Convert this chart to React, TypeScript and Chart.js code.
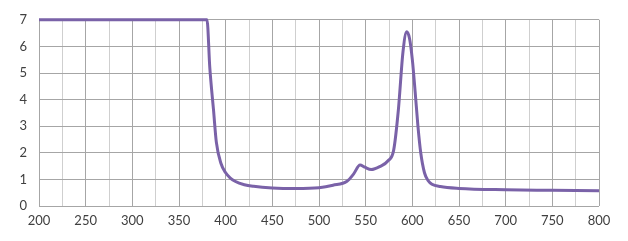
import React, { useEffect, useRef } from "react";
import { Chart, registerables } from "chart.js";

Chart.register(...registerables);

const wavelengths = [200, 250, 300, 350, 380, 383, 387, 390, 395, 400, 405, 410, 420, 430, 450, 475, 500, 515, 530, 537, 544, 549, 556, 565, 574, 580, 585, 590, 594, 597, 600, 603, 606, 609, 613, 617, 621, 630, 650, 700, 750, 800];
const absorbance = [7, 7, 7, 7, 7, 5.2, 3.6, 2.4, 1.6, 1.25, 1.05, 0.93, 0.8, 0.74, 0.68, 0.66, 0.69, 0.78, 0.93, 1.2, 1.54, 1.46, 1.37, 1.48, 1.7, 2.1, 3.6, 5.8, 6.55, 6.3, 5.5, 4.3, 3.0, 2.0, 1.25, 0.95, 0.82, 0.73, 0.66, 0.61, 0.59, 0.57];
const xMin = 200;
const xMax = 800;
const yMin = 0;
const yMax = 7;

export default function App() {
  const ref = useRef<HTMLCanvasElement | null>(null);

  useEffect(() => {
    document.body.style.margin = "0";
    const ctx = ref.current!;
    const points = wavelengths.map((x, i) => ({ x, y: absorbance[i] }));
    const chart = new Chart(ctx, {
      type: "line",
      data: {
        datasets: [
          {
            data: points,
            borderColor: "#7a62a8",
            borderWidth: 3,
            pointRadius: 0,
            cubicInterpolationMode: "monotone",
            fill: false,
            clip: 4,
          },
        ],
      },
      options: {
        animation: false,
        responsive: false,
        maintainAspectRatio: false,
        layout: { padding: { top: 17, right: 29, left: 0, bottom: 0 } },
        plugins: { legend: { display: false }, tooltip: { enabled: false } },
        scales: {
          x: {
            type: "linear",
            min: xMin,
            max: xMax,
            afterFit: (s: any) => {
              s.height = 35;
            },
            ticks: {
              stepSize: 25,
              autoSkip: false,
              maxRotation: 0,
              padding: 7,
              color: "#404040",
              font: { family: "Lato", size: 13 },
              callback: (v: any) => (Number(v) % 50 === 0 ? String(v) : ""),
            },
            grid: {
              drawTicks: false,
              color: (c: any) => (c.tick && c.tick.value % 50 === 0 ? "#a6a6a6" : "#cfcfcf"),
              lineWidth: 1,
            },
            border: { display: false },
          },
          y: {
            min: yMin,
            max: yMax,
            afterFit: (s: any) => {
              s.width = 39;
            },
            ticks: {
              stepSize: 1,
              padding: 12,
              color: "#404040",
              font: { family: "Lato", size: 13 },
            },
            grid: { drawTicks: false, color: "#a6a6a6", lineWidth: 1 },
            border: { display: false },
          },
        },
      },
    });
    return () => chart.destroy();
  }, []);

  return <canvas ref={ref} width={628} height={241} style={{ display: "block" }} />;
}
